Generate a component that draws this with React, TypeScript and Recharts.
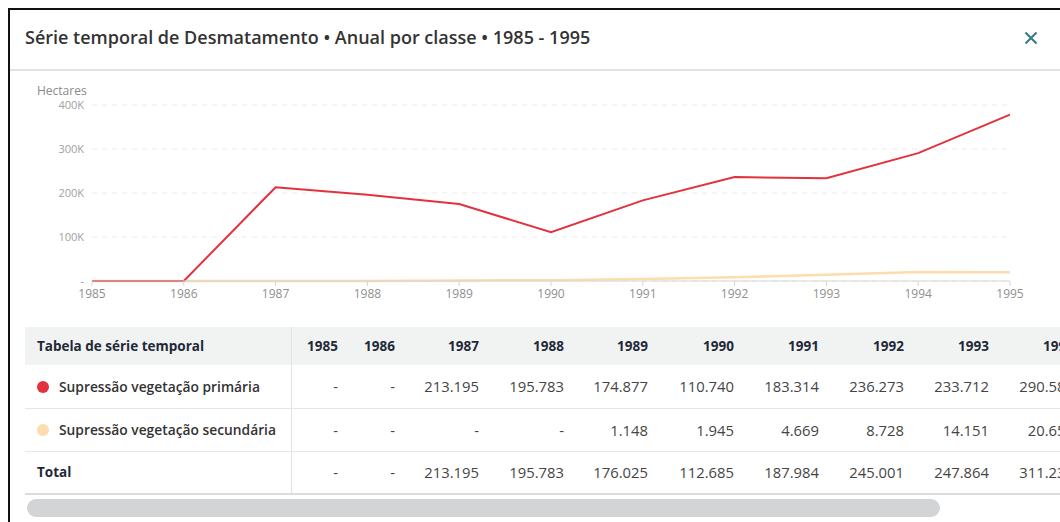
import { CartesianGrid, Line, LineChart, XAxis, YAxis } from "recharts";

const years = ["1985", "1986", "1987", "1988", "1989", "1990", "1991", "1992", "1993", "1994", "1995"];
const primaria = [0, 0, 213195, 195783, 174877, 110740, 183314, 236273, 233712, 290581, 378012];
const secundaria = [0, 0, 0, 0, 1148, 1945, 4669, 8728, 14151, 20652, 20104];
// totals as printed in the table (source rounds per class)
const total = [0, 0, 213195, 195783, 176025, 112685, 187984, 245001, 247864, 311233, 398116];
const yTicks = [0, 100000, 200000, 300000, 400000];

const RED = "#e2323d";
const PEACH = "#fddcad";
const FONT = "'Open Sans', sans-serif";

// pt-BR style thousands with dots, zero shown as "-"
const fmt = (v: number) => (v ? String(v).replace(/\B(?=(\d{3})+(?!\d))/g, ".") : "-");
const tickK = (v: number) => (v ? v / 1000 + "K" : "-");

const data = years.map((year, i) => ({ year, primaria: primaria[i], secundaria: secundaria[i] }));

// widths per column (label column first)
const colWidths = [266, 59, 57, 84, 85, 84, 86, 85, 85, 85, 85, 85];

const rows = [
  { label: "Supressão vegetação primária", color: RED, values: primaria },
  { label: "Supressão vegetação secundária", color: PEACH, values: secundaria },
];

const cell = { borderBottom: "1px solid #e6e6e6", padding: "0 12px 0 0", textAlign: "right" as const };
const headText = { fontSize: 13.5, fontWeight: 700, color: "#1f2937" };

export default function App() {
  return (
    <div
      style={{
        position: "absolute",
        left: 8,
        top: 8,
        width: 1052,
        height: 514,
        overflow: "hidden",
        fontFamily: FONT,
      }}
    >
      <div
        style={{
          position: "relative",
          width: 1200,
          height: 600,
          borderLeft: "2px solid #111",
          borderTop: "2px solid #111",
          background: "#fff",
        }}
      >
        <div
          style={{
            position: "absolute",
            left: 15,
            top: 15,
            fontSize: 18,
            fontWeight: 600,
            color: "#333",
          }}
        >
          Série temporal de Desmatamento • Anual por classe • 1985 - 1995
        </div>
        <svg style={{ position: "absolute", left: 1014, top: 21 }} width="14" height="14">
          <path d="M1.5 1.5 L12.5 12.5 M12.5 1.5 L1.5 12.5" stroke="#3b7c88" strokeWidth="2.2" />
        </svg>
        <div style={{ position: "absolute", left: 0, top: 59, width: 1200, height: 2, background: "#e3e3e3" }} />

        <div style={{ position: "absolute", left: 27, top: 72, fontSize: 12, color: "#8a8a8a" }}>Hectares</div>

        <div style={{ position: "absolute", left: 0, top: 70 }}>
          <LineChart width={1030} height={231} data={data} margin={{ top: 25, right: 30, bottom: 0, left: 0 }}>
            <CartesianGrid vertical={false} stroke="#ececec" strokeDasharray="5 5" />
            <XAxis
              dataKey="year"
              interval={0}
              height={30}
              tick={{ fontSize: 12, fill: "#8f8f8f", fontFamily: FONT }}
              tickLine={{ stroke: "#d6d6d6" }}
              axisLine={{ stroke: "#d6d6d6" }}
              tickSize={5}
              tickMargin={3}
            />
            <YAxis
              width={82}
              domain={[0, 400000]}
              ticks={yTicks}
              tickFormatter={tickK}
              tick={{ fontSize: 11, fill: "#a0a0a0", fontFamily: FONT }}
              tickLine={false}
              axisLine={false}
            />
            <Line
              type="linear"
              dataKey="secundaria"
              stroke={PEACH}
              strokeWidth={2.5}
              dot={false}
              isAnimationActive={false}
            />
            <Line
              type="linear"
              dataKey="primaria"
              stroke={RED}
              strokeWidth={2}
              dot={false}
              isAnimationActive={false}
            />
          </LineChart>
        </div>

        <div style={{ position: "absolute", left: 15, top: 317 }}>
          <table
            style={{
              borderCollapse: "collapse",
              tableLayout: "fixed",
              width: colWidths.reduce((a, b) => a + b, 0),
              color: "#444",
            }}
          >
            <colgroup>
              {colWidths.map((w, i) => (
                <col key={i} style={{ width: w }} />
              ))}
            </colgroup>
            <thead>
              <tr style={{ background: "#f1f3f3", height: 38 }}>
                <th style={{ ...headText, textAlign: "left", padding: "0 0 0 12px", borderRight: "1px solid #e2e2e2" }}>
                  Tabela de série temporal
                </th>
                {years.map((y) => (
                  <th key={y} style={{ ...cell, ...headText, borderBottom: "none" }}>
                    {y}
                  </th>
                ))}
              </tr>
            </thead>
            <tbody>
              {rows.map((r) => (
                <tr key={r.label} style={{ height: 43 }}>
                  <td
                    style={{
                      borderBottom: "1px solid #e6e6e6",
                      borderRight: "1px solid #e2e2e2",
                      padding: "0 0 0 12px",
                      fontSize: 13.8,
                      fontWeight: 600,
                      color: "#333",
                      whiteSpace: "nowrap",
                    }}
                  >
                    <span
                      style={{
                        display: "inline-block",
                        width: 12,
                        height: 12,
                        borderRadius: 6,
                        background: r.color,
                        marginRight: 10,
                        verticalAlign: -1,
                      }}
                    />
                    {r.label}
                  </td>
                  {r.values.map((v, i) => (
                    <td key={i} style={{ ...cell, fontSize: 14.8 }}>
                      {fmt(v)}
                    </td>
                  ))}
                </tr>
              ))}
              <tr style={{ height: 43 }}>
                <td
                  style={{
                    ...headText,
                    borderBottom: "2px solid #dcdcdc",
                    borderRight: "1px solid #e2e2e2",
                    padding: "0 0 0 12px",
                  }}
                >
                  Total
                </td>
                {total.map((v, i) => (
                  <td key={i} style={{ ...cell, borderBottom: "2px solid #dcdcdc", fontSize: 14.8 }}>
                    {fmt(v)}
                  </td>
                ))}
              </tr>
            </tbody>
          </table>
          <div
            style={{
              marginTop: 4,
              marginLeft: 2,
              width: 913,
              height: 18,
              borderRadius: 9,
              background: "#d3d4d6",
            }}
          />
        </div>
      </div>
    </div>
  );
}
